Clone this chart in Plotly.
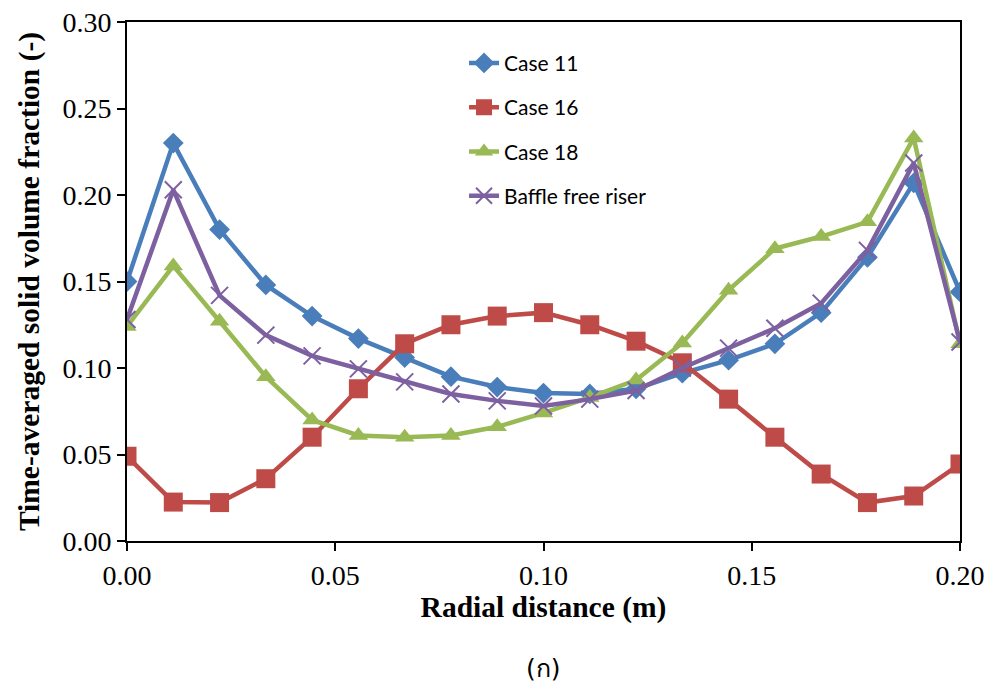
import plotly.graph_objects as go

radial = [0.2 * i / 18 for i in range(19)]
case11 = [0.150, 0.230, 0.180, 0.148, 0.130, 0.117, 0.106, 0.095, 0.089, 0.0855, 0.085, 0.088,
          0.097, 0.1045, 0.114, 0.132, 0.164, 0.207, 0.144]
case16 = [0.049, 0.0225, 0.0222, 0.036, 0.060, 0.088, 0.114, 0.125, 0.130, 0.132, 0.125, 0.1155,
          0.103, 0.082, 0.060, 0.0387, 0.0222, 0.026, 0.0445]
case18 = [0.124, 0.159, 0.127, 0.095, 0.070, 0.061, 0.060, 0.061, 0.066, 0.074, 0.083, 0.093,
          0.1145, 0.145, 0.169, 0.176, 0.1845, 0.233, 0.114]
baffle = [0.128, 0.203, 0.142, 0.119, 0.107, 0.0995, 0.092, 0.085, 0.081, 0.078, 0.082, 0.087,
          0.100, 0.1115, 0.123, 0.1375, 0.168, 0.2185, 0.115]

names = ["Case 11", "Case 16", "Case 18", "Baffle free riser"]
colors = ["#4a7ebb", "#be4b48", "#98b954", "#7d60a0"]
symbols = ["diamond", "square", "triangle-up", "x-thin"]
sizes = [16, 19, 17, 17]

fig = go.Figure()
for i, (name, ys) in enumerate(zip(names, [case11, case16, case18, baffle])):
    marker = dict(symbol=symbols[i], size=sizes[i], color=colors[i])
    if symbols[i] == "x-thin":
        marker["line"] = dict(color=colors[i], width=2)
    fig.add_trace(go.Scatter(x=radial, y=ys, mode="lines+markers", name=name,
                             legendgroup=name,
                             line=dict(color=colors[i], width=4.5), marker=marker))

tickfont = dict(family="Liberation Serif", size=28, color="black")
fig.update_layout(
    width=992, height=686,
    margin=dict(l=127, r=32, t=22, b=145, autoexpand=False),
    paper_bgcolor="white", plot_bgcolor="white",
    showlegend=True,
    legend=dict(x=0.4046, y=0.96, xanchor="left", yanchor="top",
                font=dict(family="Lato", size=21, color="black"),
                tracegroupgap=14, bgcolor="rgba(0,0,0,0)"),
    xaxis=dict(range=[0, 0.2], tickvals=[0, 0.05, 0.1, 0.15, 0.2],
               ticktext=["0.00", "0.05", "0.10", "0.15", "0.20"], automargin=False,
               showgrid=False, zeroline=False, showline=True, linecolor="black", linewidth=2,
               mirror=True, ticks="outside", ticklen=8, tickwidth=2, tickcolor="black",
               tickfont=tickfont,
               title=dict(text="<b>Radial distance (m)</b>", standoff=3,
                          font=dict(family="Liberation Serif", size=29.5, color="black"))),
    yaxis=dict(range=[0, 0.3], tickvals=[0, 0.05, 0.1, 0.15, 0.2, 0.25, 0.3],
               ticktext=["0.00", "0.05", "0.10", "0.15", "0.20", "0.25", "0.30"], automargin=False,
               showgrid=False, zeroline=False, showline=True, linecolor="black", linewidth=2,
               mirror=True, ticks="outside", ticklen=8, tickwidth=2, tickcolor="black",
               tickfont=tickfont,
               title=dict(text="<b>Time-averaged solid volume fraction (-)</b>", standoff=14,
                          font=dict(family="Liberation Serif", size=29.5, color="black"))),
    annotations=[dict(text="(ก)", x=0.5, xref="paper", y=-(668 - 541) / 519, yref="paper",
                      yanchor="middle", showarrow=False,
                      font=dict(family="DejaVu Sans", size=25, color="black"))],
)
fig.write_html("out.html")
